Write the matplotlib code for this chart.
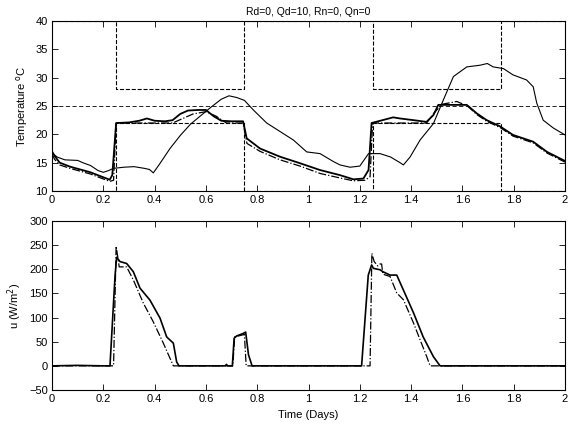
import matplotlib
matplotlib.use('Agg')
import matplotlib.pyplot as plt

plt.rcParams['font.family'] = ['Liberation Sans', 'DejaVu Sans']
plt.rcParams['font.size'] = 8

# comfort bounds (occupied hours 0.25-0.75 of each day)
t_bound = [0, 0.25, 0.25, 0.75, 0.75, 1.25, 1.25, 1.75, 1.75, 2.0]
upper_bound = [40, 40, 28, 28, 40, 40, 28, 28, 40, 40]
lower_bound = [10, 10, 22, 22, 10, 10, 22, 22, 10, 10]
t_ref = [0, 2]
ref_temp = [25, 25]

# outdoor temperature
t_out = [0, 0.02, 0.05, 0.10, 0.12, 0.15, 0.18, 0.20, 0.22, 0.24, 0.28, 0.32,
         0.36, 0.38, 0.395, 0.42, 0.46, 0.50, 0.54, 0.58, 0.62, 0.66, 0.69,
         0.72, 0.75, 0.785, 0.837, 0.889, 0.941, 0.993, 1.045, 1.097, 1.123,
         1.162, 1.20, 1.234, 1.279, 1.32, 1.357, 1.37, 1.396, 1.435, 1.487,
         1.526, 1.565, 1.617, 1.669, 1.697, 1.72, 1.76, 1.797, 1.85, 1.876,
         1.89, 1.915, 1.955, 2.0]
temp_out = [16.7, 16.0, 15.5, 15.4, 15.0, 14.5, 13.6, 13.3, 13.6, 14.0, 14.2,
            14.3, 14.0, 13.8, 13.2, 14.8, 17.5, 19.8, 21.8, 23.3, 24.8, 26.2,
            26.8, 26.5, 26.0, 24.3, 22.0, 20.5, 19.0, 16.9, 16.6, 15.2, 14.6,
            14.2, 14.4, 16.6, 16.6, 16.0, 15.0, 14.6, 16.0, 19.0, 21.9, 26.1,
            30.2, 31.9, 32.2, 32.5, 31.9, 31.6, 30.5, 29.6, 28.4, 25.5, 22.5,
            21.1, 19.9]

# measured zone temperature
t_zone = [0, 0.01, 0.03, 0.07, 0.11, 0.15, 0.19, 0.225, 0.235, 0.25, 0.30,
          0.34, 0.37, 0.40, 0.44, 0.47, 0.50, 0.53, 0.57, 0.60, 0.63, 0.66,
          0.70, 0.745, 0.759, 0.811, 0.889, 0.967, 1.045, 1.123, 1.175, 1.214,
          1.234, 1.246, 1.28, 1.33, 1.357, 1.41, 1.46, 1.487, 1.506, 1.539,
          1.617, 1.656, 1.695, 1.747, 1.797, 1.876, 1.93, 2.0]
temp_zone = [17.0, 16.2, 15.0, 14.3, 13.8, 13.3, 12.6, 12.0, 12.8, 22.0, 22.1,
             22.4, 22.8, 22.4, 22.3, 22.5, 23.6, 24.2, 24.3, 24.3, 23.2, 22.4,
             22.3, 22.3, 19.3, 17.5, 16.05, 14.9, 13.7, 12.8, 12.06, 12.2,
             13.7, 22.0, 22.4, 23.0, 22.8, 22.5, 22.2, 23.4, 25.2, 25.2, 25.2,
             23.7, 22.5, 21.4, 19.9, 18.7, 16.9, 15.3]

# simulated zone temperature
t_sim = [0, 0.01, 0.03, 0.07, 0.11, 0.15, 0.19, 0.225, 0.24, 0.25, 0.30, 0.40,
         0.47, 0.50, 0.55, 0.60, 0.64, 0.68, 0.745, 0.76, 0.811, 0.889, 0.967,
         1.045, 1.123, 1.175, 1.22, 1.24, 1.25, 1.30, 1.40, 1.46, 1.49, 1.52,
         1.578, 1.62, 1.656, 1.695, 1.747, 1.797, 1.876, 1.93, 2.0]
temp_sim = [16.5, 15.6, 14.6, 14.0, 13.5, 13.0, 12.3, 11.7, 11.9, 22.0, 22.0,
            22.0, 22.0, 22.6, 23.6, 24.0, 23.2, 22.0, 22.0, 18.4, 17.0, 15.5,
            14.4, 13.1, 12.3, 11.8, 11.9, 12.5, 22.0, 22.0, 22.0, 22.0, 23.8,
            25.3, 25.8, 25.0, 23.5, 22.3, 21.2, 19.7, 18.5, 16.7, 15.1]

# cooling / heating input, measured
t_u = [0, 0.1, 0.2, 0.226, 0.239, 0.246, 0.252, 0.265, 0.291, 0.317, 0.343,
       0.382, 0.421, 0.447, 0.473, 0.486, 0.495, 0.675, 0.68, 0.685, 0.703,
       0.71, 0.72, 0.745, 0.755, 0.766, 0.78, 1.0, 1.207, 1.233, 1.246, 1.253,
       1.279, 1.29, 1.318, 1.344, 1.37, 1.41, 1.447, 1.487, 1.513, 2.0]
u_meas = [0, 1, 0, 0, 123, 188, 225, 216, 212, 195, 161, 136, 99, 60, 47, 8, 0,
          0, 3, 0, 0, 57, 62, 67, 70, 23, 0, 0, 0, 188, 209, 202, 199, 195,
          188, 188, 157, 109, 60, 19, 0, 0]

# cooling / heating input, simulated
t_u_sim = [0, 0.24, 0.25, 0.262, 0.291, 0.317, 0.356, 0.395, 0.434, 0.473,
           0.705, 0.712, 0.75, 0.757, 1.0, 1.24, 1.247, 1.256, 1.27, 1.279,
           1.285, 1.29, 1.318, 1.344, 1.37, 1.41, 1.435, 1.461, 1.474, 2.0]
u_sim = [0, 0, 248, 205, 205, 178, 130, 91, 47, 0, 0, 60, 65, 0, 0, 0, 233,
         216, 207, 211, 211, 190, 185, 151, 137, 88, 54, 19, 0, 0]

fig = plt.figure(figsize=(5.76, 4.26), dpi=100)
ax1 = fig.add_axes([0.0903, 0.5516, 0.8906, 0.3991])
ax2 = fig.add_axes([0.0903, 0.0845, 0.8906, 0.3967])

ax1.plot(t_bound, upper_bound, color='black', ls='--', lw=0.8)
ax1.plot(t_bound, lower_bound, color='black', ls='--', lw=0.8)
ax1.plot(t_ref, ref_temp, color='black', ls='--', lw=0.6, dashes=(5, 3))
ax1.plot(t_out, temp_out, color='black', lw=0.8)
ax1.plot(t_sim, temp_sim, color='black', ls='-.', lw=0.9)
ax1.plot(t_zone, temp_zone, color='black', lw=1.3)
ax1.set_xlim(0, 2)
ax1.set_ylim(10, 40)
ax1.set_xticks([0, 0.2, 0.4, 0.6, 0.8, 1, 1.2, 1.4, 1.6, 1.8, 2])
ax1.set_xticklabels(['0', '0.2', '0.4', '0.6', '0.8', '1', '1.2', '1.4',
                     '1.6', '1.8', '2'])
ax1.set_yticks([10, 15, 20, 25, 30, 35, 40])
ax1.set_ylabel('Temperature $^{\\rm o}$C')
ax1.set_title('Rd=0, Qd=10, Rn=0, Qn=0', fontsize=7.5, pad=4)

ax2.plot(t_u_sim, u_sim, color='black', ls='-.', lw=0.9)
ax2.plot(t_u, u_meas, color='black', lw=1.2)
ax2.set_xlim(0, 2)
ax2.set_ylim(-50, 300)
ax2.set_xticks([0, 0.2, 0.4, 0.6, 0.8, 1, 1.2, 1.4, 1.6, 1.8, 2])
ax2.set_xticklabels(['0', '0.2', '0.4', '0.6', '0.8', '1', '1.2', '1.4',
                     '1.6', '1.8', '2'])
ax2.set_yticks([-50, 0, 50, 100, 150, 200, 250, 300])
ax2.set_ylabel('u (W/m$^2$)')
ax2.set_xlabel('Time (Days)')

for ax in (ax1, ax2):
    ax.tick_params(direction='in', top=True, right=True, length=4,
                   width=0.6, labelsize=8, pad=3)
    for s in ax.spines.values():
        s.set_linewidth(0.8)

fig.savefig('out.png', dpi=100)
